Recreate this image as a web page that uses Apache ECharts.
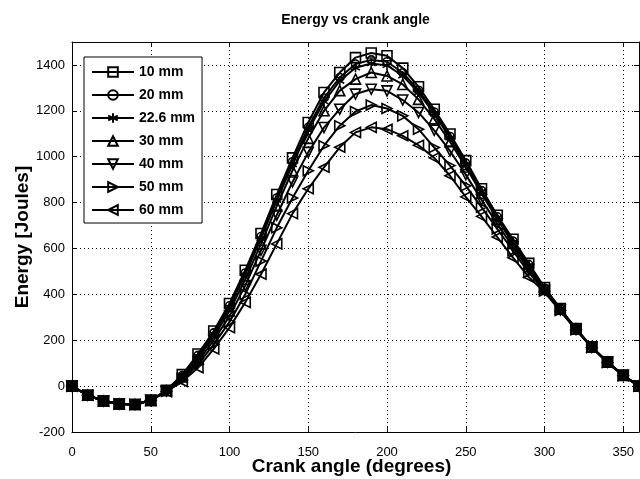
<!DOCTYPE html>
<html><head><meta charset="utf-8">
<script src="https://cdn.jsdelivr.net/npm/echarts@6/dist/echarts.min.js"></script>
<style>html,body{margin:0;padding:0;background:#fff}#c{width:640px;height:479px}</style>
</head><body><div id="c"></div>
<script>
const angles = [0,10,20,30,40,50,60,70,80,90,100,110,120,130,140,150,160,170,180,190,200,210,220,230,240,250,260,270,280,290,300,310,320,330,340,350,360];
const seriesNames = ['10 mm','20 mm','22.6 mm','30 mm','40 mm','50 mm','60 mm'];
const s10 = [0,-40,-65,-78,-80,-62,-18,50,140,240,360,505,665,835,995,1149,1280,1367,1432,1452,1440,1386,1305,1207,1099,983,860,745,640,535,430,338,251,171,106,48,0];
const s20 = [0,-40,-65,-78,-80,-62,-19,46,134,232,350,493,652,820,978,1128,1256,1345,1404,1422,1414,1366,1290,1195,1088,972,852,738,632,530,428,337,250,171,105,47,0];
const s22 = [0,-40,-65,-78,-80,-62,-19,44,130,227,344,486,644,810,966,1115,1240,1330,1388,1406,1398,1353,1280,1187,1082,966,848,734,628,526,426,336,250,170,105,47,0];
const s30 = [0,-40,-65,-78,-80,-62,-20,40,122,215,328,465,620,785,940,1080,1200,1288,1338,1367,1352,1315,1250,1165,1065,955,840,728,622,520,423,335,249,170,104,46,0];
const s40 = [0,-40,-65,-78,-80,-62,-21,33,108,200,305,438,592,745,890,1019,1127,1207,1273,1294,1287,1247,1193,1115,1025,922,812,708,606,508,418,332,247,169,104,46,0];
const s50 = [0,-40,-65,-78,-80,-62,-22,27,95,182,280,400,545,690,820,939,1048,1135,1197,1225,1210,1178,1120,1040,961,873,780,685,590,495,415,330,246,168,103,45,0];
const s60 = [0,-40,-65,-78,-80,-62,-24,20,80,162,255,365,488,620,752,860,954,1041,1106,1128,1120,1091,1050,995,917,825,740,650,560,475,410,327,245,168,103,45,0];
const xTicks = {min: 0, max: 360, interval: 50};
const yTicks = {min: -200, max: 1500, interval: 200};

const allValues = [s10,s20,s22,s30,s40,s50,s60];
const asterisk = 'path://M0,-10L0,10M-8.66,-5L8.66,5M-8.66,5L8.66,-5';
const symbols = [
  {symbol:'rect', size:10, rot:0},
  {symbol:'circle', size:8, rot:0},
  {symbol:asterisk, size:9, rot:0},
  {symbol:'triangle', size:10, rot:0},
  {symbol:'triangle', size:10, rot:180},
  {symbol:'triangle', size:10, rot:-90},
  {symbol:'triangle', size:10, rot:90}
];
const FONT = 'Liberation Sans, Arial, sans-serif';

const series = seriesNames.map((n, k) => ({
  name: n,
  type: 'line',
  data: angles.map((a, i) => [a, allValues[k][i]]),
  symbol: symbols[k].symbol,
  symbolSize: symbols[k].size,
  symbolRotate: symbols[k].rot,
  showSymbol: true,
  showAllSymbol: true,
  animation: false,
  lineStyle: {color: '#000', width: 2},
  itemStyle: {color: 'rgba(255,255,255,0)', borderColor: '#000', borderWidth: 1.6},
  emphasis: {disabled: true},
  z: 3 + k
}));

const plainFmt = v => String(v);
const chart = echarts.init(document.getElementById('c'), null, {renderer: 'canvas'});
chart.setOption({
  backgroundColor: '#fff',
  animation: false,
  grid: {left: 72, right: 1, top: 42, bottom: 47, containLabel: false, outerBoundsMode: 'none'},
  legend: {
    orient: 'vertical',
    left: 84, top: 57,
    itemWidth: 42, itemHeight: 12, itemGap: 9,
    padding: [8, 7, 6, 7],
    backgroundColor: '#fff',
    borderColor: '#000', borderWidth: 1,
    textStyle: {fontFamily: FONT, fontSize: 14, fontWeight: 'bold', color: '#000'},
    data: seriesNames
  },
  xAxis: [{
    type: 'value', position: 'bottom',
    min: xTicks.min, max: xTicks.max, interval: xTicks.interval,
    name: 'Crank angle (degrees)', nameLocation: 'middle', nameGap: 25, nameMoveOverlap: false,
    nameTextStyle: {fontFamily: FONT, fontSize: 19, fontWeight: 'bold', color: '#000', padding: [0, 8, 0, 0]},
    axisLine: {show: true, onZero: false, lineStyle: {color: '#000', width: 1}},
    axisTick: {show: true, inside: true, length: 5, lineStyle: {color: '#000'}},
    axisLabel: {showMaxLabel: false, formatter: plainFmt, fontFamily: FONT, fontSize: 13, color: '#000', margin: 14},
    splitLine: {show: true, lineStyle: {color: '#000', type: [1, 3], width: 1}}
  }, {
    type: 'value', position: 'top',
    min: xTicks.min, max: xTicks.max, interval: xTicks.interval,
    name: 'Energy vs crank angle', nameLocation: 'middle', nameGap: 15, nameMoveOverlap: false,
    nameTextStyle: {fontFamily: FONT, fontSize: 14, fontWeight: 'bold', color: '#000'},
    axisLine: {show: true, onZero: false, lineStyle: {color: '#000', width: 1}},
    axisTick: {show: true, inside: true, length: 5, lineStyle: {color: '#000'}},
    axisLabel: {show: false},
    splitLine: {show: false}
  }],
  yAxis: [{
    type: 'value', position: 'left',
    min: yTicks.min, max: yTicks.max, interval: yTicks.interval,
    name: 'Energy [Joules]', nameLocation: 'middle', nameGap: 40, nameMoveOverlap: false,
    nameTextStyle: {fontFamily: FONT, fontSize: 19, fontWeight: 'bold', color: '#000'},
    axisLine: {show: true, onZero: false, lineStyle: {color: '#000', width: 1}},
    axisTick: {show: true, inside: true, length: 5, lineStyle: {color: '#000'}},
    axisLabel: {showMaxLabel: false, formatter: plainFmt, fontFamily: FONT, fontSize: 13, color: '#000', margin: 7},
    splitLine: {show: true, lineStyle: {color: '#000', type: [1, 3], width: 1}}
  }, {
    type: 'value', position: 'right',
    min: yTicks.min, max: yTicks.max, interval: yTicks.interval,
    axisLine: {show: true, onZero: false, lineStyle: {color: '#000', width: 1}},
    axisTick: {show: true, inside: true, length: 5, lineStyle: {color: '#000'}},
    axisLabel: {show: false},
    splitLine: {show: false}
  }],
  series: series
});
</script></body></html>
